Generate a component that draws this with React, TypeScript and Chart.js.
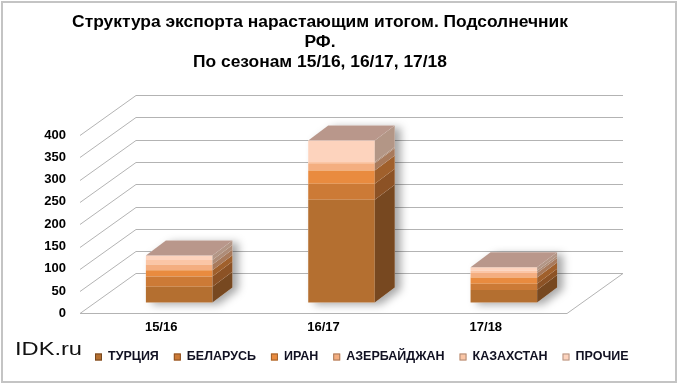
import React, { useEffect, useRef } from "react";
import { Chart, registerables } from "chart.js";

Chart.register(...registerables);

// ---- data ----
const categories = ["15/16", "16/17", "17/18"];
const seriesNames = ["ТУРЦИЯ", "БЕЛАРУСЬ", "ИРАН", "АЗЕРБАЙДЖАН", "КАЗАХСТАН", "ПРОЧИЕ"];
const turkey = [35, 230, 28];
const belarus = [23, 36, 14];
const iran = [14, 30, 14];
const azerbaijan = [13, 16, 10];
const kazakhstan = [10, 3, 5];
const others = [10, 48, 8];
const seriesValues = [turkey, belarus, iran, azerbaijan, kazakhstan, others];
const yTicks = [0, 50, 100, 150, 200, 250, 300, 350, 400];
const titleLines = [
  "Структура экспорта нарастающим итогом. Подсолнечник",
  "РФ.",
  "По сезонам 15/16, 16/17, 17/18",
];
const watermark = "IDK.ru";

// ---- styles ----
const frontColors = ["#b46f30", "#cc7a36", "#e98b3f", "#f4ae80", "#fbc6a6", "#fdd3bd"];
const sideColors = ["#774820", "#8c5225", "#a0602c", "#a87a5c", "#ae8c78", "#b39686"];
const topColor = "#b9978b";
const FONT = "'Liberation Sans', Arial, sans-serif";
const WALL = { x: 56, y: -40 };
const BAR_OFF = { x: 18, y: -11 };
const BAR_DEPTH = { x: 20, y: -15 };

const threeD = {
  id: "threeD",
  beforeDatasetsDraw(chart: any) {
    const { ctx, chartArea, scales } = chart;
    const ys = scales.y;
    const L = chartArea.left;
    const R = chartArea.right;
    const y0 = Math.round(ys.getPixelForValue(0)) + 0.5;
    ctx.save();
    ctx.strokeStyle = "#b3b3b3";
    ctx.lineWidth = 1;
    // floor
    ctx.beginPath();
    ctx.moveTo(L, y0);
    ctx.lineTo(R, y0);
    ctx.lineTo(R + WALL.x, y0 + WALL.y);
    ctx.lineTo(L + WALL.x, y0 + WALL.y);
    ctx.stroke();
    // walls grid
    for (const v of yTicks) {
      const py = Math.round(ys.getPixelForValue(v)) + 0.5;
      ctx.beginPath();
      ctx.moveTo(L, py);
      ctx.lineTo(L + WALL.x, py + WALL.y);
      ctx.lineTo(R + WALL.x, py + WALL.y);
      ctx.stroke();
    }
    // shadows
    const n = chart.data.datasets.length;
    const first = chart.getDatasetMeta(0);
    const last = chart.getDatasetMeta(n - 1);
    for (let i = 0; i < categories.length; i++) {
      const b = first.data[i];
      const t = last.data[i];
      const l = b.x - b.width / 2 + BAR_OFF.x;
      const r = b.x + b.width / 2 + BAR_OFF.x;
      const bot = b.base + BAR_OFF.y;
      const top = t.y + BAR_OFF.y;
      ctx.save();
      ctx.shadowColor = "rgba(0,0,0,0.35)";
      ctx.shadowBlur = 9;
      ctx.shadowOffsetX = 6;
      ctx.shadowOffsetY = 2;
      ctx.fillStyle = "#ffffff";
      ctx.beginPath();
      ctx.moveTo(l, bot);
      ctx.lineTo(l, top);
      ctx.lineTo(l + BAR_DEPTH.x, top + BAR_DEPTH.y);
      ctx.lineTo(r + BAR_DEPTH.x, top + BAR_DEPTH.y);
      ctx.lineTo(r + BAR_DEPTH.x, bot + BAR_DEPTH.y);
      ctx.lineTo(r, bot);
      ctx.closePath();
      ctx.fill();
      ctx.restore();
    }
    ctx.restore();
    ctx.save();
    ctx.translate(BAR_OFF.x, BAR_OFF.y);
  },
  afterDatasetsDraw(chart: any) {
    const { ctx } = chart;
    ctx.restore();
    const n = chart.data.datasets.length;
    for (let i = 0; i < categories.length; i++) {
      let topIdx = -1;
      for (let d = 0; d < n; d++) {
        const el = chart.getDatasetMeta(d).data[i];
        const r = el.x + el.width / 2 + BAR_OFF.x;
        const top = el.y + BAR_OFF.y;
        const bot = el.base + BAR_OFF.y;
        if (Math.abs(bot - top) > 0) topIdx = d;
        ctx.fillStyle = sideColors[d];
        ctx.beginPath();
        ctx.moveTo(r, bot);
        ctx.lineTo(r, top);
        ctx.lineTo(r + BAR_DEPTH.x, top + BAR_DEPTH.y);
        ctx.lineTo(r + BAR_DEPTH.x, bot + BAR_DEPTH.y);
        ctx.closePath();
        ctx.fill();
      }
      if (topIdx >= 0) {
        const el = chart.getDatasetMeta(topIdx).data[i];
        const l = el.x - el.width / 2 + BAR_OFF.x;
        const r = el.x + el.width / 2 + BAR_OFF.x;
        const top = el.y + BAR_OFF.y;
        ctx.fillStyle = topColor;
        ctx.beginPath();
        ctx.moveTo(l, top);
        ctx.lineTo(r, top);
        ctx.lineTo(r + BAR_DEPTH.x, top + BAR_DEPTH.y);
        ctx.lineTo(l + BAR_DEPTH.x, top + BAR_DEPTH.y);
        ctx.closePath();
        ctx.fill();
      }
    }
  },
  afterDraw(chart: any) {
    const { ctx, width, height } = chart;
    ctx.save();
    // frame
    ctx.strokeStyle = "#c4c4c4";
    ctx.lineWidth = 2;
    ctx.strokeRect(2, 2, width - 6, height - 4);
    // title
    ctx.font = `bold 17.4px ${FONT}`;
    ctx.textAlign = "center";
    ctx.textBaseline = "middle";
    ctx.fillStyle = "#000000";
    titleLines.forEach((line, k) => ctx.fillText(line, 320, 22 + k * 20));
    // legend
    ctx.font = `bold 12.5px ${FONT}`;
    ctx.textBaseline = "middle";
    ctx.textAlign = "left";
    let x = 95;
    const yc = 357;
    chart.data.datasets.forEach((ds: any, d: number) => {
      ctx.fillStyle = frontColors[d];
      ctx.fillRect(x, yc - 3.5, 7, 7);
      ctx.strokeStyle = sideColors[d];
      ctx.lineWidth = 1;
      ctx.strokeRect(x + 0.5, yc - 3, 6, 6);
      ctx.fillStyle = "#111122";
      ctx.fillText(ds.label, x + 13, yc);
      x += 13 + ctx.measureText(ds.label).width + 15;
    });
    // watermark
    ctx.font = `19px ${FONT}`;
    ctx.textBaseline = "alphabetic";
    ctx.fillStyle = "#111111";
    const w = ctx.measureText(watermark).width;
    ctx.translate(15, 355);
    ctx.scale(67 / w, 1);
    ctx.fillText(watermark, 0, 0);
    ctx.restore();
  },
};

export default function App() {
  const ref = useRef<HTMLCanvasElement | null>(null);
  useEffect(() => {
    if (!ref.current) return;
    const chart = new Chart(ref.current, {
      type: "bar",
      data: {
        labels: categories,
        datasets: seriesNames.map((name, d) => ({
          label: name,
          data: seriesValues[d],
          backgroundColor: frontColors[d],
          borderWidth: 0,
          categoryPercentage: 1,
          barPercentage: 0.41,
          clip: false as any,
        })),
      },
      options: {
        responsive: false,
        animation: false,
        devicePixelRatio: 1,
        layout: { padding: { left: 0, right: 113, top: 135, bottom: 51 } },
        plugins: {
          legend: { display: false },
          tooltip: { enabled: false },
          title: { display: false },
        },
        scales: {
          x: {
            stacked: true,
            grid: { display: false },
            border: { display: false },
            ticks: { color: "#000", font: { family: FONT, size: 13, weight: "bold" }, padding: -2 },
          },
          y: {
            stacked: true,
            min: 0,
            max: 400,
            afterFit: (s: any) => {
              s.width = 80;
            },
            afterBuildTicks: (s: any) => {
              s.ticks = yTicks.map((v) => ({ value: v }));
            },
            grid: { display: false },
            border: { display: false },
            ticks: { color: "#000", font: { family: FONT, size: 13, weight: "bold" }, padding: 6 },
          },
        },
      },
      plugins: [threeD],
    });
    return () => chart.destroy();
  }, []);
  return (
    <div style={{ position: "fixed", left: 0, top: 0, width: 680, height: 384, background: "#fff" }}>
      <canvas ref={ref} width={680} height={384} />
    </div>
  );
}
